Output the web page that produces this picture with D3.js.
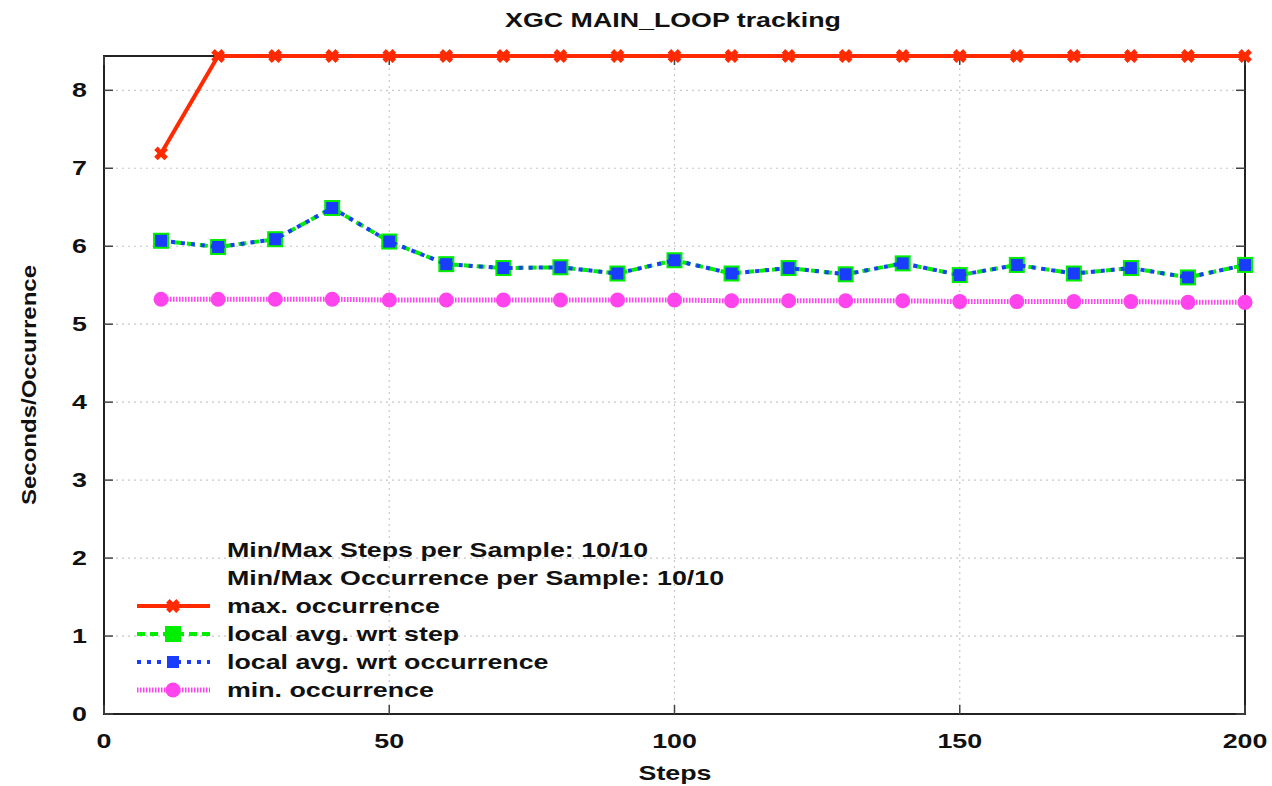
<!DOCTYPE html>
<html>
<head>
<meta charset="utf-8">
<script src="https://cdn.jsdelivr.net/npm/d3@7"></script>
<style>
  body { margin: 0; background: #fff; }
  text { font-family: "Liberation Sans", Arial, sans-serif; font-weight: bold; fill: #111; font-size: 20px; }
</style>
</head>
<body>
<svg id="chart" width="1272" height="786"></svg>
<script>
// samples, every 10 steps
const steps = [10, 20, 30, 40, 50, 60, 70, 80, 90, 100, 110, 120, 130, 140, 150, 160, 170, 180, 190, 200];
const maxOcc = [7.19, 8.44, 8.44, 8.44, 8.44, 8.44, 8.44, 8.44, 8.44, 8.44, 8.44, 8.44, 8.44, 8.44, 8.44, 8.44, 8.44, 8.44, 8.44, 8.44];
const avgStep = [6.07, 5.99, 6.09, 6.49, 6.06, 5.77, 5.72, 5.73, 5.65, 5.82, 5.65, 5.72, 5.64, 5.78, 5.63, 5.76, 5.65, 5.72, 5.60, 5.76];
const avgOcc = [6.07, 5.99, 6.09, 6.49, 6.06, 5.77, 5.72, 5.73, 5.65, 5.82, 5.65, 5.72, 5.64, 5.78, 5.63, 5.76, 5.65, 5.72, 5.60, 5.76];
const minOcc = [5.32, 5.32, 5.32, 5.32, 5.31, 5.31, 5.31, 5.31, 5.31, 5.31, 5.30, 5.30, 5.30, 5.30, 5.29, 5.29, 5.29, 5.29, 5.28, 5.28];
const xTicks = [0, 50, 100, 150, 200];
const yTicks = [0, 1, 2, 3, 4, 5, 6, 7, 8];
const legendNotes = ["Min/Max Steps per Sample: 10/10", "Min/Max Occurrence per Sample: 10/10"];

let svg = d3.select("svg#chart");
let pLeft = 104, pRight = 1245, pTop = 56, pBottom = 714;
let stretch = 1.34; // the original's lettering is wide

let x = d3.scaleLinear().domain([0, 200]).range([pLeft, pRight]);
let y = d3.scaleLinear().domain([0, 8.44]).range([pBottom, pTop]);

// text helper: wide glyphs via horizontal scale
function label(px, py, str, anchor, rot, sx) {
  svg.append("g")
    .attr("transform", "translate(" + px + "," + py + ")" + (rot ? " rotate(" + rot + ")" : "") + " scale(" + (sx || stretch) + ",1)")
    .append("text").attr("text-anchor", anchor || "start").text(str);
}

// grid (dotted)
let grid = svg.append("g").attr("stroke", "#c8c8c8").attr("stroke-width", 1.2).attr("stroke-dasharray", "2,4");
grid.selectAll("line.gy").data(yTicks.slice(1)).join("line")
  .attr("x1", pLeft).attr("x2", pRight)
  .attr("y1", d => y(d)).attr("y2", d => y(d));
grid.selectAll("line.gx").data(xTicks.slice(1, -1)).join("line")
  .attr("x1", d => x(d)).attr("x2", d => x(d))
  .attr("y1", pTop).attr("y2", pBottom);

// frame
svg.append("rect")
  .attr("x", pLeft).attr("y", pTop).attr("width", pRight - pLeft).attr("height", pBottom - pTop)
  .attr("fill", "none").attr("stroke", "#222").attr("stroke-width", 2);

// ticks, gnuplot style (inside, mirrored)
let ticks = svg.append("g").attr("stroke", "#444").attr("stroke-width", 1.5);
yTicks.forEach(t => {
  ticks.append("line").attr("x1", pLeft).attr("x2", pLeft + 9).attr("y1", y(t)).attr("y2", y(t));
  ticks.append("line").attr("x1", pRight).attr("x2", pRight - 9).attr("y1", y(t)).attr("y2", y(t));
});
xTicks.forEach(t => {
  ticks.append("line").attr("x1", x(t)).attr("x2", x(t)).attr("y1", pBottom).attr("y2", pBottom - 9);
  ticks.append("line").attr("x1", x(t)).attr("x2", x(t)).attr("y1", pTop).attr("y2", pTop + 9);
});

yTicks.forEach(t => label(pLeft - 17, y(t) + 7, t, "end"));
xTicks.forEach(t => label(x(t), pBottom + 34, t, "middle"));

// titles
label(673, 27, "XGC MAIN_LOOP tracking", "middle");
label(675, 780, "Steps", "middle");
label(36, 385, "Seconds/Occurrence", "middle", -90, 1.2);

// series styling
let series = [
  {name: "max. occurrence", vals: maxOcc, color: "#ff2a00", dash: null, width: 4, mark: "cross"},
  {name: "local avg. wrt step", vals: avgStep, color: "#00ee00", dash: "8,5", width: 4, mark: "square"},
  {name: "local avg. wrt occurrence", vals: avgOcc, color: "#1a3cff", dash: "4,6", width: 4, mark: "smallsquare"},
  {name: "min. occurrence", vals: minOcc, color: "#ff44ee", dash: "1.5,1.5", width: 5, mark: "circle"}
];

let line = d3.line().x(d => x(d[0])).y(d => y(d[1]));

function drawMark(g, kind, color, cx, cy) {
  if (kind === "cross") {
    g.append("path").attr("d", d3.symbol(d3.symbolX, 70)())
      .attr("transform", "translate(" + cx + "," + cy + ")")
      .attr("stroke", color).attr("stroke-width", 5).attr("fill", "none");
  } else if (kind === "square") {
    g.append("rect").attr("x", cx - 8).attr("y", cy - 8).attr("width", 16).attr("height", 16)
      .attr("fill", color);
  } else if (kind === "smallsquare") {
    g.append("rect").attr("x", cx - 6).attr("y", cy - 6).attr("width", 12).attr("height", 12)
      .attr("fill", color);
  } else {
    g.append("circle").attr("cx", cx).attr("cy", cy).attr("r", 7.5).attr("fill", color);
  }
}

series.forEach(s => {
  let g = svg.append("g");
  let pts = steps.map((st, i) => [st, s.vals[i]]);
  g.append("path").datum(pts).attr("d", line)
    .attr("fill", "none").attr("stroke", s.color).attr("stroke-width", s.width)
    .attr("stroke-dasharray", s.dash);
  pts.forEach(p => drawMark(g, s.mark, s.color, x(p[0]), y(p[1])));
});

// legend
legendNotes.forEach((t, i) => label(227, 557 + i * 28, t));
let leg = svg.append("g");
series.forEach((s, i) => {
  let ly = 606 + i * 28;
  leg.append("line").attr("x1", 137).attr("x2", 210).attr("y1", ly).attr("y2", ly)
    .attr("stroke", s.color).attr("stroke-width", s.width).attr("stroke-dasharray", s.dash);
  drawMark(leg, s.mark, s.color, 173, ly);
  label(227, ly + 7, s.name);
});
</script>
</body>
</html>
